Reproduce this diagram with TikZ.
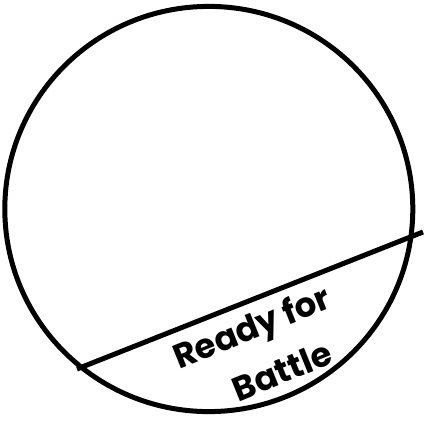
\documentclass[tikz,border=0pt]{standalone}
\usepackage{fontspec}
\setmainfont{Poppins}
\begin{document}
\begin{tikzpicture}[x=1pt,y=-1pt,
  outline/.style={draw=black,line width=5pt},
  label/.style={font=\bfseries\fontsize{34}{48}\selectfont,rotate=22,inner sep=0pt}]
\useasboundingbox (0,0) rectangle (425,423);
\draw[outline] (208.8,209) ellipse [x radius=204, y radius=202.6];
\coordinate (L) at (77,369);
\coordinate (R) at (423,232);
\draw[outline] (L) -- (R);
\node[label] (line1) at (253,330) {Ready for};
\node[label] (line2) at (282,371) {Battle};
\end{tikzpicture}
\end{document}
